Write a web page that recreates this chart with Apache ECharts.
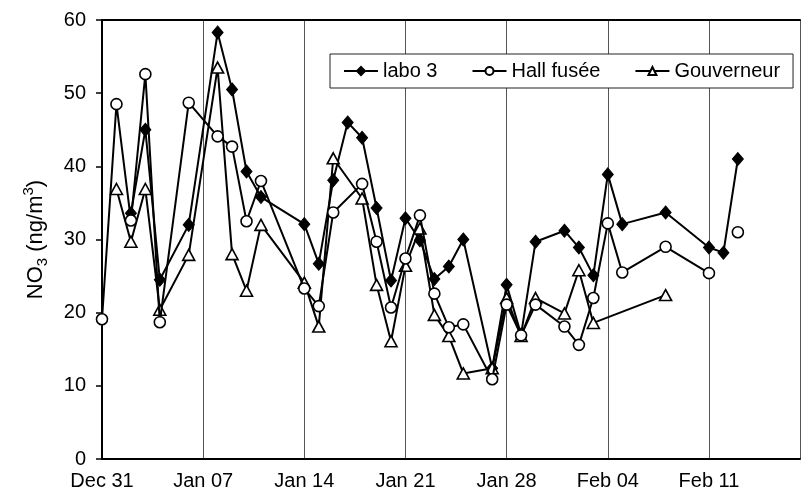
<!DOCTYPE html>
<html>
<head>
<meta charset="utf-8">
<script src="https://cdn.jsdelivr.net/npm/echarts@6/dist/echarts.min.js"></script>
<style>
html,body{margin:0;padding:0;background:#fff;}
#chart{width:801px;height:494px;}
</style>
</head>
<body>
<div id="chart"></div>
<script>
// Tick labels for the x axis (every 7 days starting Dec 31)
const tickLabels = ['Dec 31', 'Jan 07', 'Jan 14', 'Jan 21', 'Jan 28', 'Feb 04', 'Feb 11'];

// Day index counted from Dec 31 (day 0)
const labo3Days = [2,3,4,6,8,9,10,11,14,15,16,17,18,19,20,21,22,23,24,25,27,28,29,30,32,33,34,35,36,39,42,43,44];
const labo3Vals = [33.6,45.0,24.5,32.0,58.3,50.5,39.3,35.8,32.1,26.7,38.1,46.0,43.9,34.3,24.4,32.9,29.9,24.6,26.3,30.0,12.4,23.8,17.0,29.7,31.2,28.9,25.1,38.9,32.1,33.7,28.9,28.2,41.0];

const hallDays = [0,1,2,3,4,6,8,9,10,11,14,15,16,18,19,20,21,22,23,24,25,27,28,29,30,32,33,34,35,36,39,42,43,44];
const hallVals = [19.1,48.5,32.6,52.6,18.7,48.7,44.1,42.7,32.5,38.0,23.3,20.9,33.7,37.6,29.7,20.7,27.4,33.3,22.6,18.0,18.4,10.9,21.1,16.9,21.1,18.1,15.6,22.0,32.2,25.5,29.0,25.4,null,31.0];

const gouvDays = [1,2,3,4,6,8,9,10,11,14,15,16,18,19,20,21,22,23,24,25,27,28,29,30,32,33,34,39];
const gouvVals = [36.9,29.7,36.9,20.4,27.9,53.5,28.0,23.0,32.0,24.1,18.1,41.1,35.6,23.8,16.1,26.4,31.5,19.7,16.8,11.7,12.4,22.0,16.8,22.0,19.9,25.8,18.6,22.4];

const seriesNames = ['labo 3', 'Hall fusée', 'Gouverneur'];

function pairs(days, vals) {
  return days.map((d, i) => [d, vals[i] == null ? '-' : vals[i]]);
}

const FONT = 'Liberation Sans, Arial, Helvetica, sans-serif';
const chart = echarts.init(document.getElementById('chart'), null, {renderer: 'canvas'});
const XMAX = 48.3;

chart.setOption({
  animation: false,
  backgroundColor: '#fff',
  textStyle: {fontFamily: FONT, color: '#000'},
  grid: {left: 102, top: 20, right: 1, bottom: 35, containLabel: false},
  legend: {
    show: true,
    left: 330, top: 54,
    padding: [7, 13],
    itemGap: 34,
    itemWidth: 34,
    itemHeight: 10,
    borderColor: '#222',
    borderWidth: 1,
    backgroundColor: '#fff',
    textStyle: {fontFamily: FONT, fontSize: 20, color: '#000'},
    data: seriesNames
  },
  xAxis: [{
    type: 'value',
    min: 0, max: XMAX, interval: 7,
    axisLine: {show: true, lineStyle: {color: '#000', width: 2}},
    axisTick: {show: false},
    splitLine: {show: true, lineStyle: {color: '#555', width: 1}},
    axisLabel: {
      fontFamily: FONT, fontSize: 20, color: '#000', margin: 12,
      showMaxLabel: false,
      formatter: v => (v % 7 === 0 && tickLabels[v / 7]) ? tickLabels[v / 7] : ''
    }
  }, {
    type: 'value', position: 'top',
    min: 0, max: XMAX, interval: 7,
    axisLine: {show: true, lineStyle: {color: '#000', width: 2}},
    axisTick: {show: false}, axisLabel: {show: false}, splitLine: {show: false}
  }],
  yAxis: {
    type: 'value', min: 0, max: 60, interval: 10,
    axisLine: {show: true, lineStyle: {color: '#000', width: 2}},
    axisTick: {show: true, length: 6, lineStyle: {color: '#000', width: 1.5}},
    splitLine: {show: false},
    axisLabel: {fontFamily: FONT, fontSize: 20, color: '#000', margin: 16},
    name: '{n|NO}{s|3}{n| (ng/m}{p|3}{n|)}',
    nameLocation: 'middle',
    nameGap: 52,
    nameRotate: 90,
    nameTextStyle: {
      rich: {
        n: {fontFamily: FONT, fontSize: 22, color: '#000', lineHeight: 29},
        s: {fontFamily: FONT, fontSize: 15, color: '#000', lineHeight: 15, verticalAlign: 'bottom'},
        p: {fontFamily: FONT, fontSize: 15, color: '#000', lineHeight: 15, verticalAlign: 'top'}
      }
    }
  },
  series: [{
    name: seriesNames[0], type: 'line',
    data: pairs(labo3Days, labo3Vals),
    symbol: 'diamond', symbolSize: [11, 13],
    lineStyle: {color: '#000', width: 2},
    itemStyle: {color: '#000', borderColor: '#000', borderWidth: 1},
    z: 3
  }, {
    name: seriesNames[1], type: 'line',
    data: pairs(hallDays, hallVals),
    connectNulls: false,
    symbol: 'circle', symbolSize: 11,
    lineStyle: {color: '#000', width: 2},
    itemStyle: {color: '#fff', borderColor: '#000', borderWidth: 1.6},
    z: 5
  }, {
    name: seriesNames[2], type: 'line',
    data: pairs(gouvDays, gouvVals),
    symbol: 'triangle', symbolSize: [12, 11],
    lineStyle: {color: '#000', width: 2},
    itemStyle: {color: '#fff', borderColor: '#000', borderWidth: 1.6},
    z: 4
  }]
});
</script>
</body>
</html>
